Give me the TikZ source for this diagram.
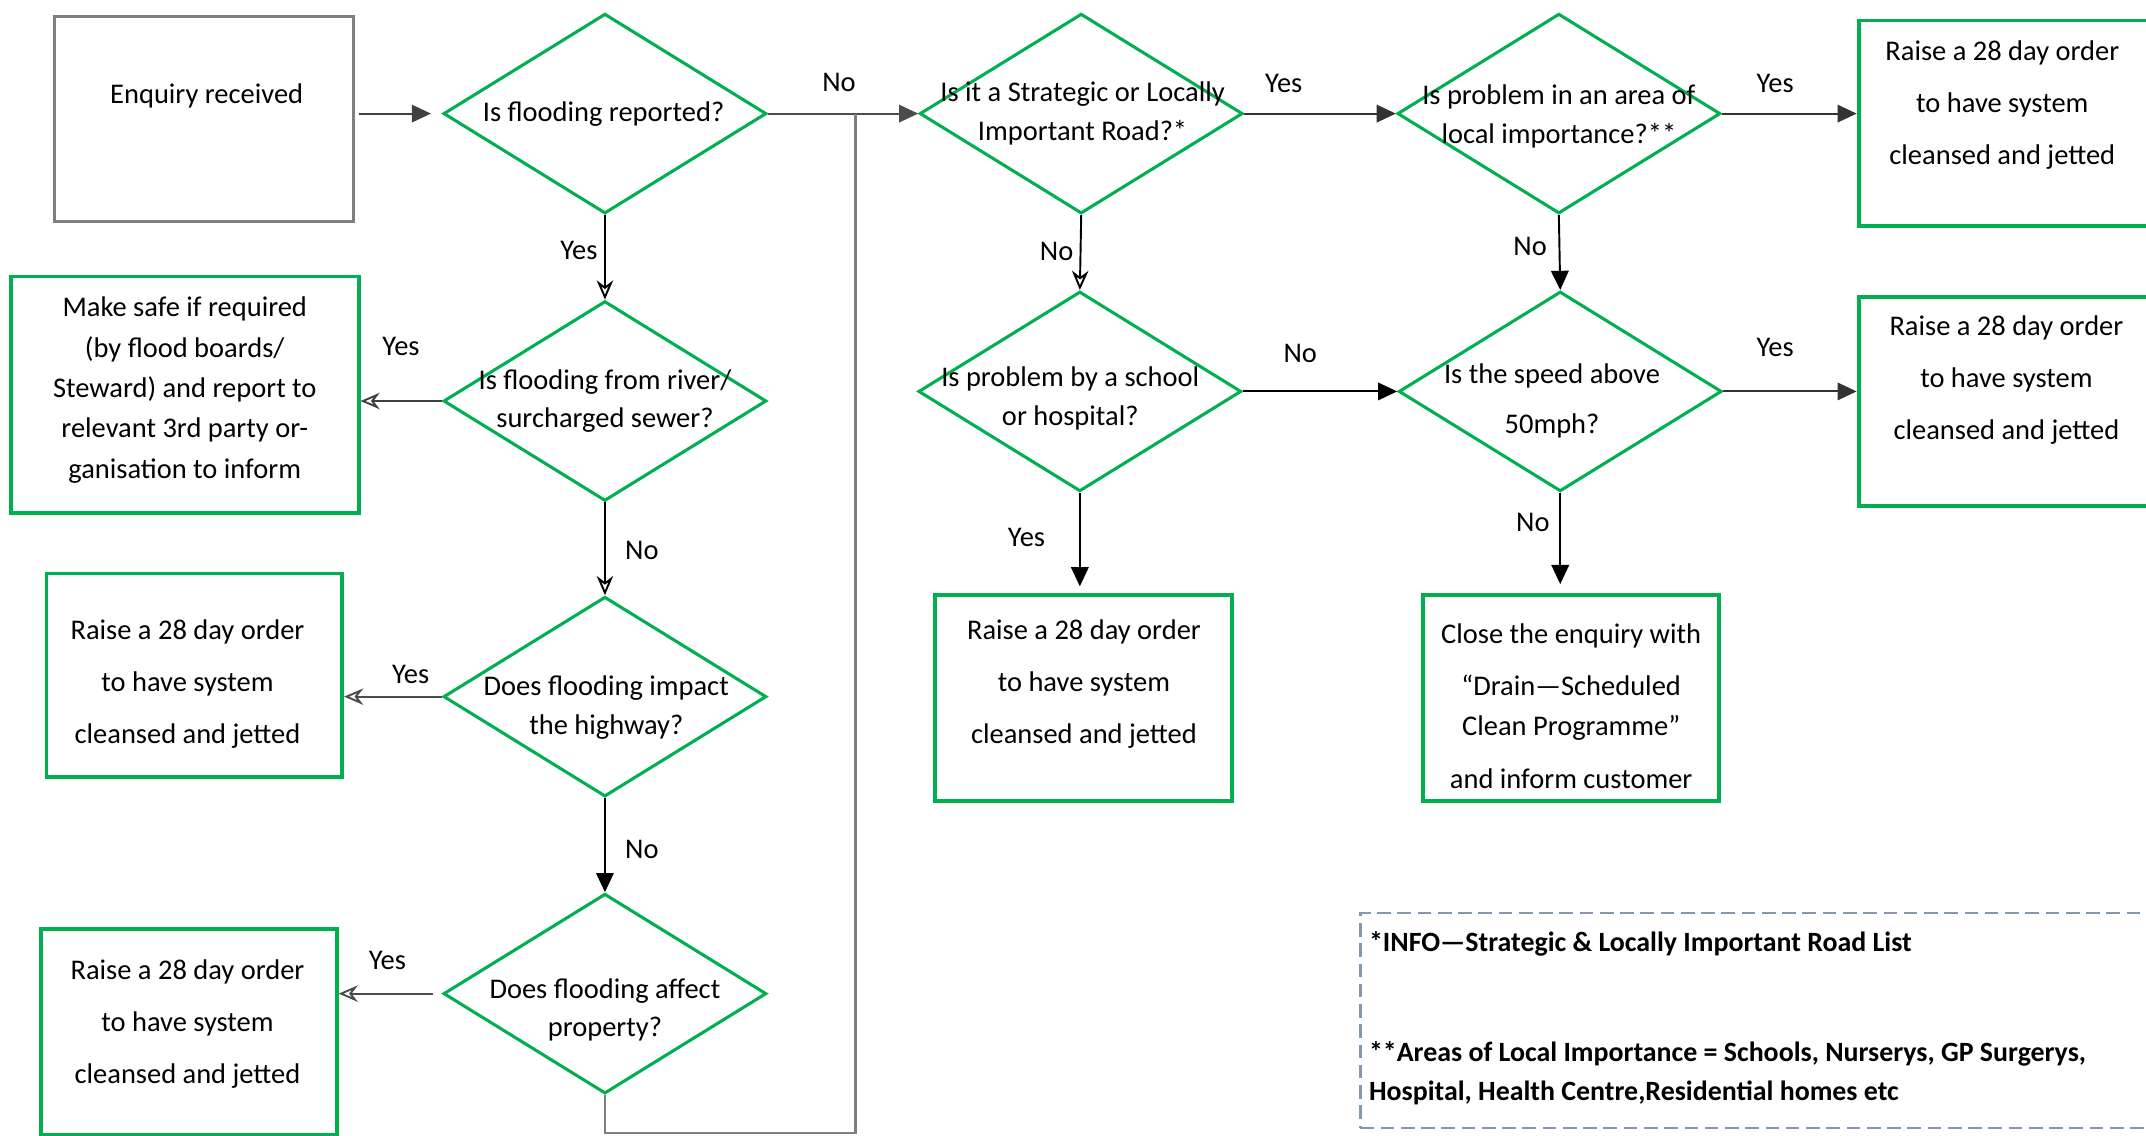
\documentclass[tikz,border=0pt]{standalone}
\usepackage{fontspec}
\setmainfont{Carlito}
\usetikzlibrary{shapes.geometric,arrows.meta}
\definecolor{flowgreen}{HTML}{00B050}
\definecolor{startgray}{HTML}{7F7F7F}
\definecolor{infogray}{HTML}{8497B0}
\newcommand{\flowsize}{\fontsize{14.8}{27}\selectfont}

\begin{document}
\begin{tikzpicture}[x=0.25mm, y=-0.25mm,
    decision/.style={diamond, draw=flowgreen, line width=1.6pt, inner sep=0pt,
      minimum width=59mm, minimum height=36.5mm},
    outcome/.style={rectangle, draw=flowgreen, line width=2pt, inner sep=0pt},
    txt/.style={align=center, inner sep=0pt, font=\flowsize},
    qtxt/.style={align=center, inner sep=0pt, font=\fontsize{14.8}{20}\selectfont},
    lbl/.style={inner sep=0pt, text=black, font=\fontsize{14.8}{18}\selectfont},
    conn/.style={line width=1pt},
    arr/.style={conn, -{Triangle[length=3.5mm,width=3.2mm]}},
    arrv/.style={conn, -{Stealth[open,length=3.5mm,width=3mm]}}]
  \useasboundingbox (0,0) rectangle (1568,830);
  \clip (0,0) rectangle (1568,830);

  % start
  \node[draw=startgray, line width=1.6pt, minimum width=54.5mm, minimum height=37.5mm] (start) at (149,87) {};
  \node[txt] (start-t) at (151,70) {Enquiry received};

  % flooding questions
  \node[decision] (qflood) at (442,83) {};
  \node[qtxt] (qflood-t) at (441,83) {Is flooding reported?};
  \node[decision] (qriver) at (442,293) {};
  \node[qtxt] (qriver-t) at (442,293) {Is flooding from river/\\surcharged sewer?};
  \node[decision] (qhigh) at (442,509) {};
  \node[qtxt] (qhigh-t) at (443,517) {Does flooding impact\\the highway?};
  \node[decision] (qprop) at (442,726) {};
  \node[qtxt] (qprop-t) at (442,738) {Does flooding affect\\property?};

  % left outcomes
  \node[outcome, minimum width=63.5mm, minimum height=43.25mm] (safe) at (135,288.5) {};
  \node[txt, font=\fontsize{14.8}{21}\selectfont] (safe-t) at (135,285)
    {Make safe if required\\(by flood boards/\\Steward) and report to\\relevant 3rd party or-\\ganisation to inform};
  \node[outcome, minimum width=54mm, minimum height=37.25mm] (raisel1) at (142,493.5) {};
  \node[txt] (raisel1-t) at (137,500) {Raise a 28 day order\\to have system\\cleansed and jetted};
  \node[outcome, minimum width=54mm, minimum height=37.5mm] (raisel2) at (138,754) {};
  \node[txt] (raisel2-t) at (137,748) {Raise a 28 day order\\to have system\\cleansed and jetted};

  % road questions
  \node[decision] (qroad) at (790,83) {};
  \node[qtxt] (qroad-t) at (791,83) {Is it a Strategic or Locally\\Important Road?*};
  \node[decision] (qlocal) at (1139,83) {};
  \node[qtxt] (qlocal-t) at (1139,85) {Is problem in an area of\\local importance?**};
  \node[decision] (qschool) at (789,286) {};
  \node[qtxt] (qschool-t) at (782,291) {Is problem by a school\\or hospital?};
  \node[decision] (qspeed) at (1140,286) {};
  \node[qtxt, font=\fontsize{14.8}{26}\selectfont] (qspeed-t) at (1134,293) {Is the speed above\\50mph?};

  % right outcomes
  \node[outcome, minimum width=60.5mm, minimum height=37.5mm] (raiser1) at (1479,90) {};
  \node[txt] (raiser1-t) at (1463,77) {Raise a 28 day order\\to have system\\cleansed and jetted};
  \node[outcome, minimum width=60.5mm, minimum height=38.25mm] (raiser2) at (1479,293.5) {};
  \node[txt] (raiser2-t) at (1466,278) {Raise a 28 day order\\to have system\\cleansed and jetted};
  \node[outcome, minimum width=54.25mm, minimum height=37.5mm] (raisem) at (791.5,510) {};
  \node[txt] (raisem-t) at (792,500) {Raise a 28 day order\\to have system\\cleansed and jetted};
  \node[outcome, minimum width=54mm, minimum height=37.5mm] (close) at (1148,510) {};
  \node[txt, font=\fontsize{14.8}{20.6}\selectfont] (close-t) at (1148,516)
    {Close the enquiry with\\[6.5pt]“Drain—Scheduled\\Clean Programme”\\[7pt]and inform customer};

  % info box
  \node[draw=infogray, dashed, dash pattern=on 2.5mm off 1.2mm, line width=1.2pt,
    minimum width=151.5mm, minimum height=39.25mm] (info) at (1297,745.5) {};
  \node[lbl, font=\fontsize{14.5}{20}\selectfont\bfseries, anchor=west] (info-a) at (1000,690)
    {*INFO—Strategic \& Locally Important Road List};
  \node[lbl, font=\fontsize{14.5}{20}\selectfont\bfseries, anchor=west, align=left] (info-b) at (1000,784)
    {**Areas of Local Importance = Schools, Nurserys, GP Surgerys,\\Hospital, Health Centre,Residential homes etc};

  % connectors
  \coordinate (loopjoin) at (625,83);
  \coordinate (loopbase) at (625,828);
  \draw[arr, black!75, shorten <=0.8mm, shorten >=2mm] (start.east |- qflood.west) -- (qflood.west);
  \draw[arr, black!70] (qflood.east) -- (qflood.east -| qroad.west)
    node[lbl] (no-road) at (613,60) {No};
  \draw[conn, startgray, line width=1.3pt] (qprop.south) |- (loopbase) -- (loopjoin);
  \draw[arrv] (qflood.south) -- (qriver.north)
    node[lbl] (yes-river) at (423,183) {Yes};
  \draw[arrv, black!75] (qriver.west) -- (qriver.west -| safe.east)
    node[lbl] (yes-safe) at (293,253) {Yes};
  \draw[arrv] (qriver.south) -- (qhigh.north)
    node[lbl] (no-high) at (469,402) {No};
  \draw[arrv, black!70] (qhigh.west) -- (qhigh.west -| raisel1.east)
    node[lbl] (yes-l1) at (300,493) {Yes};
  \draw[arr] (qhigh.south) -- (qprop.north)
    node[lbl] (no-prop) at (469,621) {No};
  \draw[arrv, black!70, shorten <=1.7mm] (qprop.west) -- (qprop.west -| raisel2.east)
    node[lbl] (yes-l2) at (283,702) {Yes};
  \draw[arr, black!80] (qroad.east) -- (qlocal.west)
    node[lbl] (yes-local) at (938,61) {Yes};
  \draw[arr, black!80] (qlocal.east) -- (qlocal.east -| raiser1.west)
    node[lbl] (yes-r1) at (1297,61) {Yes};
  \draw[arrv] (qroad.south) -- (qschool.north)
    node[lbl] (no-school) at (772,184) {No};
  \draw[arr] (qlocal.south) -- (qspeed.north)
    node[lbl] (no-speed) at (1118,180) {No};
  \draw[arr] (qschool.east) -- (qspeed.west)
    node[lbl] (no-speed2) at (950,258) {No};
  \draw[arr, black!80] (qspeed.east) -- (qspeed.east -| raiser2.west)
    node[lbl] (yes-r2) at (1297,254) {Yes};
  \draw[arr, shorten >=1.3mm] (qschool.south) -- (qschool.south |- raisem.north)
    node[lbl] (yes-m) at (750,393) {Yes};
  \draw[arr, shorten >=1.7mm] (qspeed.south) -- (qspeed.south |- close.north)
    node[lbl] (no-close) at (1120,382) {No};
\end{tikzpicture}
\end{document}
